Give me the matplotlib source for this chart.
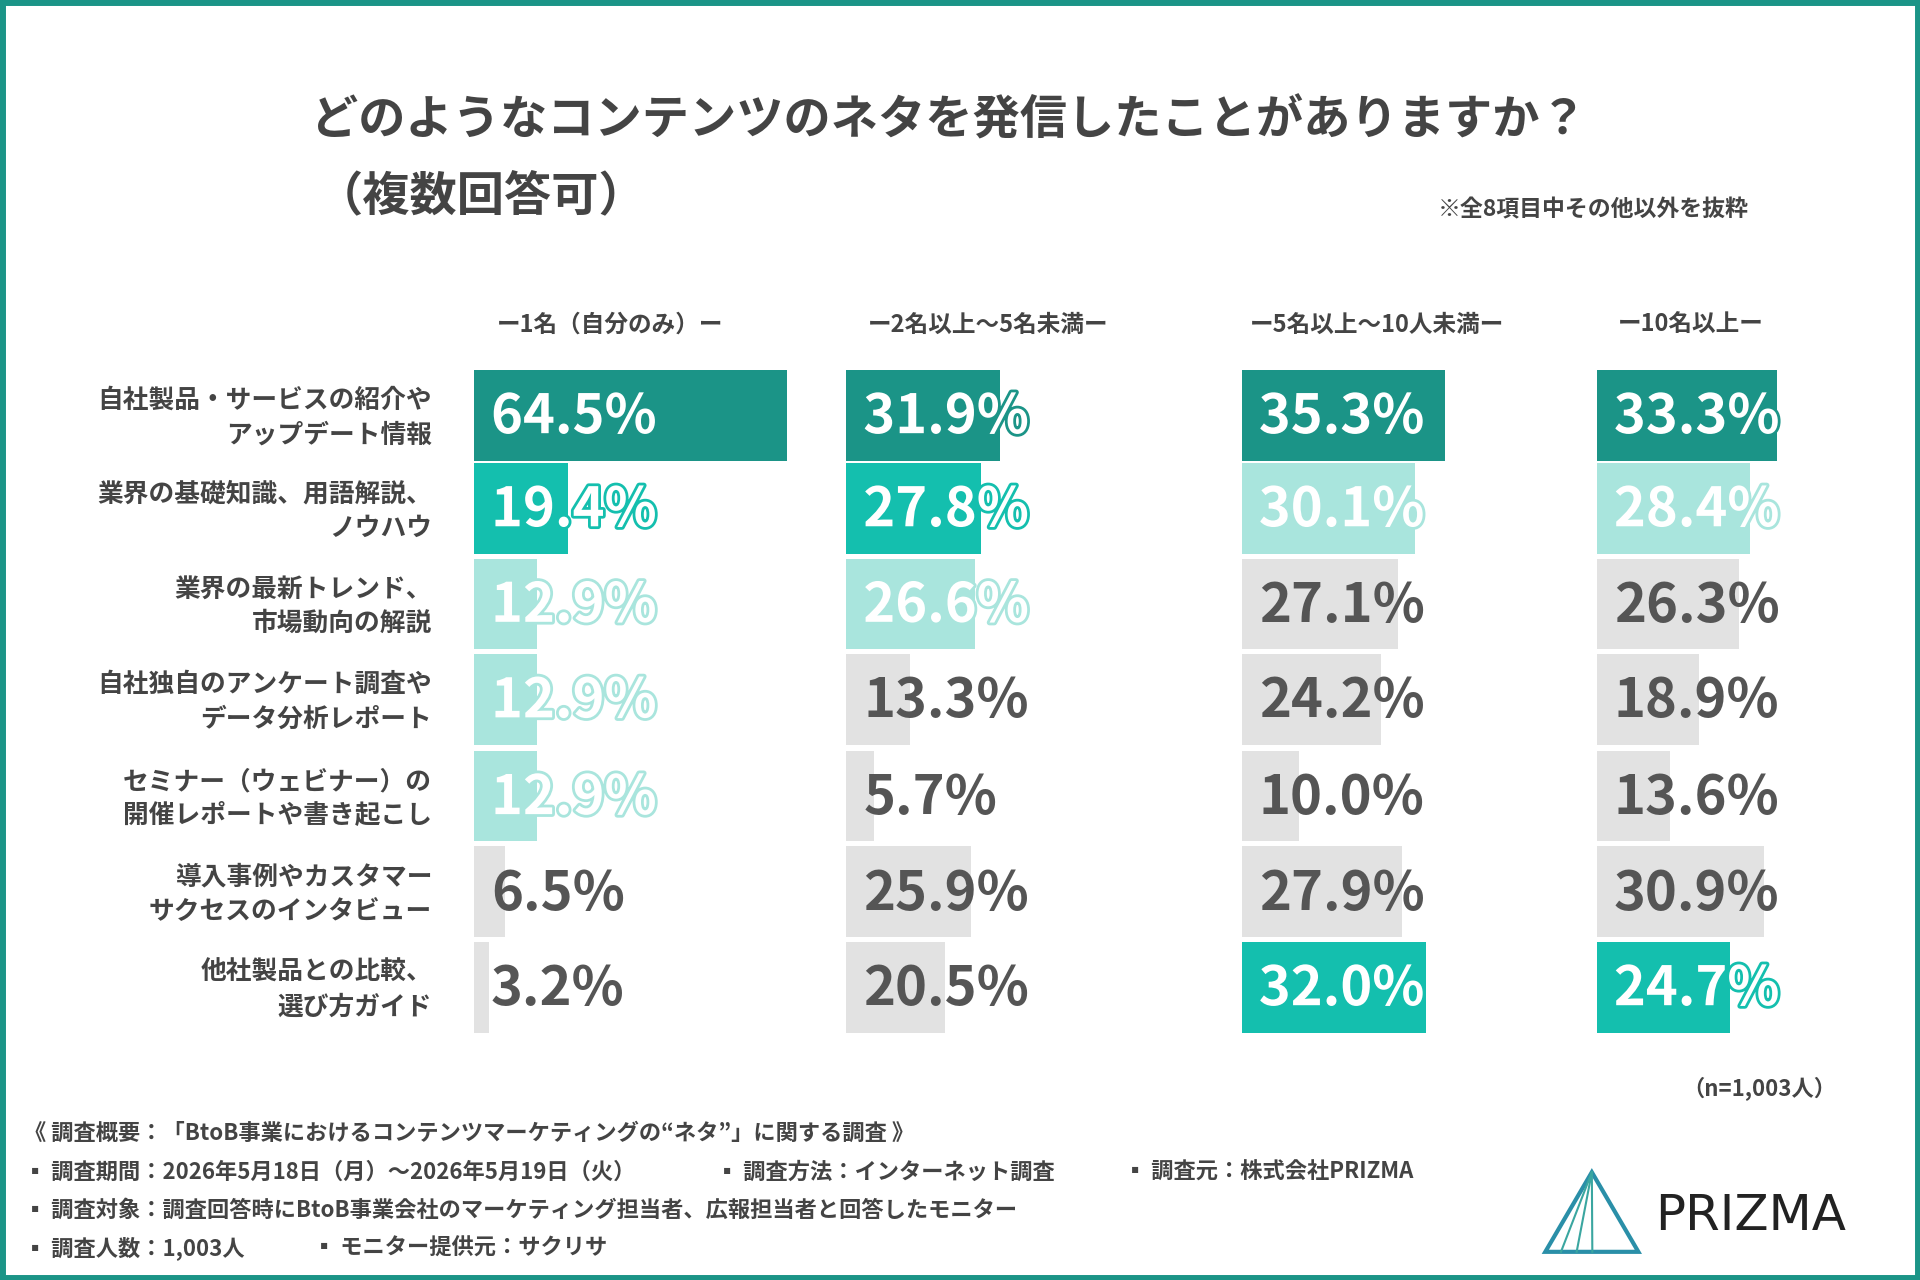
import matplotlib
matplotlib.use("Agg")
import matplotlib.pyplot as plt
import matplotlib.patheffects as pe
from matplotlib.patches import Rectangle, Polygon

plt.rcParams['font.family'] = ['Noto Sans CJK JP', 'DejaVu Sans']

categories = ["自社製品・サービスの紹介や\nアップデート情報", "業界の基礎知識、用語解説、\nノウハウ",
              "業界の最新トレンド、\n市場動向の解説", "自社独自のアンケート調査や\nデータ分析レポート",
              "セミナー（ウェビナー）の\n開催レポートや書き起こし", "導入事例やカスタマー\nサクセスのインタビュー",
              "他社製品との比較、\n選び方ガイド"]
groups = ["ー1名（自分のみ）ー", "ー2名以上〜5名未満ー", "ー5名以上〜10人未満ー", "ー10名以上ー"]
values = [
    [64.5, 19.4, 12.9, 12.9, 12.9, 6.5, 3.2],
    [31.9, 27.8, 26.6, 13.3, 5.7, 25.9, 20.5],
    [35.3, 30.1, 27.1, 24.2, 10.0, 27.9, 32.0],
    [33.3, 28.4, 26.3, 18.9, 13.6, 30.9, 24.7],
]
# colour class per cell: 0 dark, 1 bright, 2 light, 3 grey
classes = [
    [0, 1, 2, 2, 2, 3, 3],
    [0, 1, 2, 3, 3, 3, 3],
    [0, 2, 3, 3, 3, 3, 1],
    [0, 2, 3, 3, 3, 3, 1],
]
palette = ["#1b9487", "#14bfae", "#a9e5dd", "#e2e2e2"]

fig = plt.figure(figsize=(19.2, 12.8), dpi=100)
ax = fig.add_axes([0, 0, 1, 1])
ax.set_xlim(0, 1568); ax.set_ylim(1045, 0); ax.axis('off')
ax.add_patch(Rectangle((2, 2), 1564, 1041, fill=False, ec="#1b9487", lw=5))

ax.text(775, 98, "どのようなコンテンツのネタを発信したことがありますか？", fontsize=34, weight='bold',
        color="#444", ha='center', va='center')
ax.text(258, 160, "（複数回答可）", fontsize=34, weight='bold', color="#444", ha='left', va='center')
ax.text(1428, 171, "※全8項目中その他以外を抜粋", fontsize=16.5, weight='bold', color="#444", ha='right', va='center')

lefts = [387, 691, 1014, 1304]
scales = [3.97, 3.95, 4.7, 4.41]
rows_y = [339, 415, 493, 571, 650, 728, 806]
hdr_x = [498, 807, 1125, 1381]
for g, hx in zip(groups, hdr_x):
    ax.text(hx, 265, g, fontsize=17, weight='bold', color="#444", ha='center', va='center')
for c, y in zip(categories, rows_y):
    ax.text(353, y + 2, c, fontsize=18.5, weight='bold', color="#444", ha='right', va='center',
            linespacing=1.35, multialignment='right')

for j in range(4):
    ax.barh(rows_y, [v * scales[j] for v in values[j]], left=lefts[j], height=74,
            color=[palette[k] for k in classes[j]])
    for i, v in enumerate(values[j]):
        k = classes[j][i]
        t = ax.text(lefts[j] + 14, rows_y[i] + 2, f"{v:.1f}%", fontsize=39, weight='bold',
                    color="white" if k < 3 else "#555", ha='left', va='center', stretch='condensed')
        if k < 3:
            t.set_path_effects([pe.withStroke(linewidth=4, foreground=palette[k])])

ax.text(1500, 889, "（n=1,003人）", fontsize=16, weight='bold', color="#444", ha='right', va='center')
foot = dict(fontsize=16, weight='bold', color="#444", ha='left', va='center')
ax.text(20, 925, "《 調査概要：「BtoB事業におけるコンテンツマーケティングの“ネタ”」に関する調査 》", **foot)
ax.text(20, 957, "▪ 調査期間：2026年5月18日（月）〜2026年5月19日（火）", **foot)
ax.text(585, 957, "▪ 調査方法：インターネット調査", **foot)
ax.text(918, 957, "▪ 調査元：株式会社PRIZMA", **foot)
ax.text(20, 988, "▪ 調査対象：調査回答時にBtoB事業会社のマーケティング担当者、広報担当者と回答したモニター", **foot)
ax.text(20, 1019, "▪ 調査人数：1,003人", **foot)
ax.text(256, 1019, "▪ モニター提供元：サクリサ", **foot)

# logo
ax.add_patch(Polygon([[1262, 1022], [1300, 957], [1338, 1022]], closed=True, fill=False,
                     ec="#2a8fa8", lw=3))
for dx in (8, 16, 24):
    ax.plot([1300, 1262 + dx * 1.6], [957, 1022], color="#3aa6a0", lw=1.5)
ax.text(1352, 993, "PRIZMA", fontsize=36, color="#222", ha='left', va='center', family='DejaVu Sans')

fig.savefig("out.png", dpi=100)
